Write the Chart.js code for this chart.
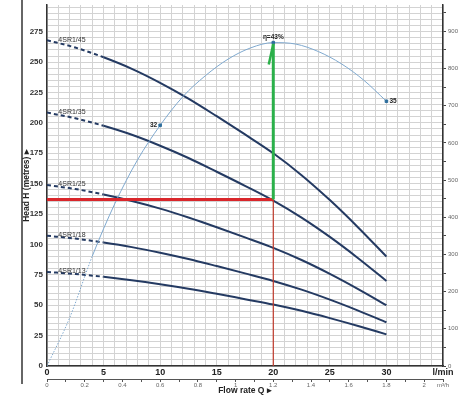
<!DOCTYPE html>
<html>
<head>
<meta charset="utf-8">
<script src="https://cdn.jsdelivr.net/npm/chart.js@4.4.0/dist/chart.umd.min.js"></script>
<style>
  html, body { margin: 0; padding: 0; background: #fff; }
  #wrap { width: 474px; height: 397px; position: relative; }
</style>
</head>
<body>
<div id="wrap"><canvas id="pumpChart"></canvas></div>
<script>
// flow rate (l/min) where the pump curves were read
const flowQ = [0, 2.5, 5, 7.5, 10, 12.5, 15, 17.5, 20, 22.5, 25, 27.5, 30];
// head (m) for each pump model
const head45 = [268, 262, 254, 244.5, 233, 220, 205.5, 190.5, 175, 157, 136.5, 114, 90];
const head35 = [208.5, 203.8, 197.6, 190.2, 181.2, 171.1, 159.8, 148.2, 136.1, 122.1, 106.2, 88.7, 70];
const head25 = [148.9, 145.6, 141.1, 135.8, 129.5, 122.2, 114.2, 105.8, 97.2, 87.2, 75.8, 63.3, 50];
const head18 = [107.2, 104.8, 101.6, 97.8, 93.2, 88, 82.2, 76.2, 70, 62.8, 54.6, 45.6, 36];
const head13 = [77.4, 75.7, 73.4, 70.6, 67.3, 63.6, 59.4, 55, 50.6, 45.4, 39.4, 32.9, 26];
const pumpNames = ['4SR1/45', '4SR1/35', '4SR1/25', '4SR1/18', '4SR1/13'];
const pumpHeads = [head45, head35, head25, head18, head13];

// efficiency curve (%)
const effQ = [0, 2, 4, 6, 8, 10, 12, 14, 16, 18, 20, 22, 24, 26, 28, 30];
const effPct = [0, 6.4, 14.6, 21.6, 27.4, 32, 35.8, 38.6, 40.8, 42.3, 43, 42.8, 41.8, 40.2, 38, 35.2];
const effMarkQ = [10, 20, 30];
const effMarkPct = [32, 43, 35.2];
const effMarkText = ['32', 'η=43%', '35'];

// duty point
const opQ = 20;
const opH = 137;
const greenTop = 265;
const barb = [[19.6, 248], [20, 265]];

const FONT = "'Liberation Sans Narrow', 'Liberation Sans', Arial, sans-serif";
const steps = (a, b, s) => Array.from({length: Math.round((b - a) / s) + 1}, (_, i) => ({value: Math.round((a + i * s) * 100) / 100}));
const pts = (xs, ys) => xs.map((q, i) => ({x: q, y: ys[i]}));

const annotate = {
  id: 'annotate',
  afterDatasetsDraw(chart) {
    const {ctx, scales: {x, y, yEff}} = chart;
    ctx.save();
    ctx.strokeStyle = '#333';
    ctx.lineWidth = 1.5;
    ctx.beginPath();
    ctx.moveTo(22, 0);
    ctx.lineTo(22, 384);
    ctx.stroke();

    ctx.fillStyle = '#333';
    ctx.font = '7px ' + FONT;
    ctx.textAlign = 'left';
    ctx.textBaseline = 'bottom';
    pumpNames.forEach((name, i) => {
      ctx.fillText(name, x.getPixelForValue(1), y.getPixelForValue(pumpHeads[i][0]) + 3);
    });

    ctx.font = 'bold 6.5px ' + FONT;
    ctx.fillStyle = '#222';
    ctx.textBaseline = 'middle';
    ctx.textAlign = 'right';
    ctx.fillText(effMarkText[0], x.getPixelForValue(effMarkQ[0]) - 3, yEff.getPixelForValue(effMarkPct[0]));
    ctx.textAlign = 'left';
    ctx.fillText(effMarkText[2], x.getPixelForValue(effMarkQ[2]) + 3, yEff.getPixelForValue(effMarkPct[2]));
    ctx.textAlign = 'center';
    ctx.textBaseline = 'bottom';
    ctx.fillText(effMarkText[1], x.getPixelForValue(effMarkQ[1]), yEff.getPixelForValue(effMarkPct[1]) - 2);
    ctx.restore();
  }
};

const pumpSets = pumpHeads.map((h, i) => ({
  label: pumpNames[i],
  data: pts(flowQ, h),
  borderColor: '#243a62',
  borderWidth: 2,
  pointRadius: 0,
  cubicInterpolationMode: 'monotone',
  yAxisID: 'y',
  order: 5,
  segment: { borderDash: c => c.p1.parsed.x <= 5 ? [4, 3] : undefined }
}));

new Chart(document.getElementById('pumpChart'), {
  type: 'line',
  data: {
    datasets: [
      { data: [{x: 0, y: opH}, {x: opQ, y: opH}], borderColor: '#d9262b', borderWidth: 3, pointRadius: 0, yAxisID: 'y', order: 1 },
      { data: [{x: opQ, y: 0}, {x: opQ, y: opH}], borderColor: '#c0392b', borderWidth: 1.2, pointRadius: 0, yAxisID: 'y', order: 1 },
      { data: [{x: opQ, y: opH}, {x: opQ, y: greenTop}], borderColor: '#2bb04a', borderWidth: 3, pointRadius: 0, yAxisID: 'y', order: 0 },
      { data: barb.map(p => ({x: p[0], y: p[1]})), borderColor: '#2bb04a', borderWidth: 2.5, pointRadius: 0, yAxisID: 'y', order: 0 },
      { data: pts(effQ, effPct), borderColor: '#7fa9cf', borderWidth: 1, pointRadius: 0, cubicInterpolationMode: 'monotone', yAxisID: 'yEff', order: 3,
        segment: { borderDash: c => c.p1.parsed.x <= 4 ? [1.5, 1.5] : undefined } },
      { data: pts(effMarkQ, effMarkPct), showLine: false, pointStyle: 'rect', pointRadius: 1.8, backgroundColor: '#2d6d9c', borderColor: '#2d6d9c', yAxisID: 'yEff', order: 0 },
      ...pumpSets
    ]
  },
  options: {
    responsive: true,
    maintainAspectRatio: false,
    animation: false,
    layout: { padding: 0 },
    plugins: { legend: { display: false }, tooltip: { enabled: false } },
    scales: {
      x: {
        type: 'linear', min: 0, max: 35, position: 'bottom', weight: 0,
        afterBuildTicks: s => { s.ticks = steps(0, 35, 1); },
        ticks: { autoSkip: false, maxRotation: 0, padding: 1, color: '#222', font: { family: FONT, size: 9, weight: 'bold' },
          callback: v => v === 35 ? 'l/min' : (v % 5 === 0 ? String(v) : '') },
        grid: { color: '#d3d3d3', drawTicks: false },
        border: { color: '#333', width: 1.5 },
        afterFit: s => { s.height = 13; }
      },
      x2: {
        type: 'linear', min: 0, max: 2.1, position: 'bottom', weight: 1,
        afterBuildTicks: s => { s.ticks = steps(0, 2.1, 0.1); },
        ticks: { autoSkip: false, maxRotation: 0, padding: 0, color: '#666', font: { family: FONT, size: 6 },
          callback: v => { const k = Math.round(v * 10); return k === 21 ? 'm³/h' : (k % 2 === 0 ? String(k / 10) : ''); } },
        grid: { drawOnChartArea: false, tickLength: 3, color: '#555' },
        border: { color: '#555', width: 1 },
        title: { display: true, text: 'Flow rate Q ▸', color: '#222', font: { family: FONT, size: 8.5, weight: 'bold' }, padding: { top: 0, bottom: 1 } },
        afterFit: s => { s.height = 18; }
      },
      y: {
        type: 'linear', min: 0, max: 297, position: 'left',
        afterBuildTicks: s => { s.ticks = steps(0, 295, 5); },
        ticks: { autoSkip: false, padding: 4, color: '#333', font: { family: FONT, size: 8, weight: 'bold' },
          callback: v => v % 25 === 0 ? String(v) : '' },
        grid: { color: '#d3d3d3', drawTicks: false },
        border: { color: '#333', width: 1.5 },
        title: { display: true, text: 'Head H (metres) ▸', color: '#222', font: { family: FONT, size: 8.5, weight: 'bold' }, padding: { top: 22, bottom: 0 } },
        afterFit: s => { s.width = 47; s.paddingTop = 0; s.paddingBottom = 0; }
      },
      yR: {
        type: 'linear', min: 0, max: 971, position: 'right',
        afterBuildTicks: s => { s.ticks = steps(0, 950, 50); },
        ticks: { autoSkip: false, padding: 2, color: '#666', font: { family: FONT, size: 6 },
          callback: v => v % 100 === 0 ? String(v) : '' },
        grid: { drawOnChartArea: false, tickLength: 3, color: '#444' },
        border: { color: '#333', width: 1.5 },
        afterFit: s => { s.width = 31; s.paddingTop = 0; s.paddingBottom = 0; }
      },
      yEff: { type: 'linear', min: 0, max: 48, display: false }
    }
  },
  plugins: [annotate]
});
</script>
</body>
</html>
